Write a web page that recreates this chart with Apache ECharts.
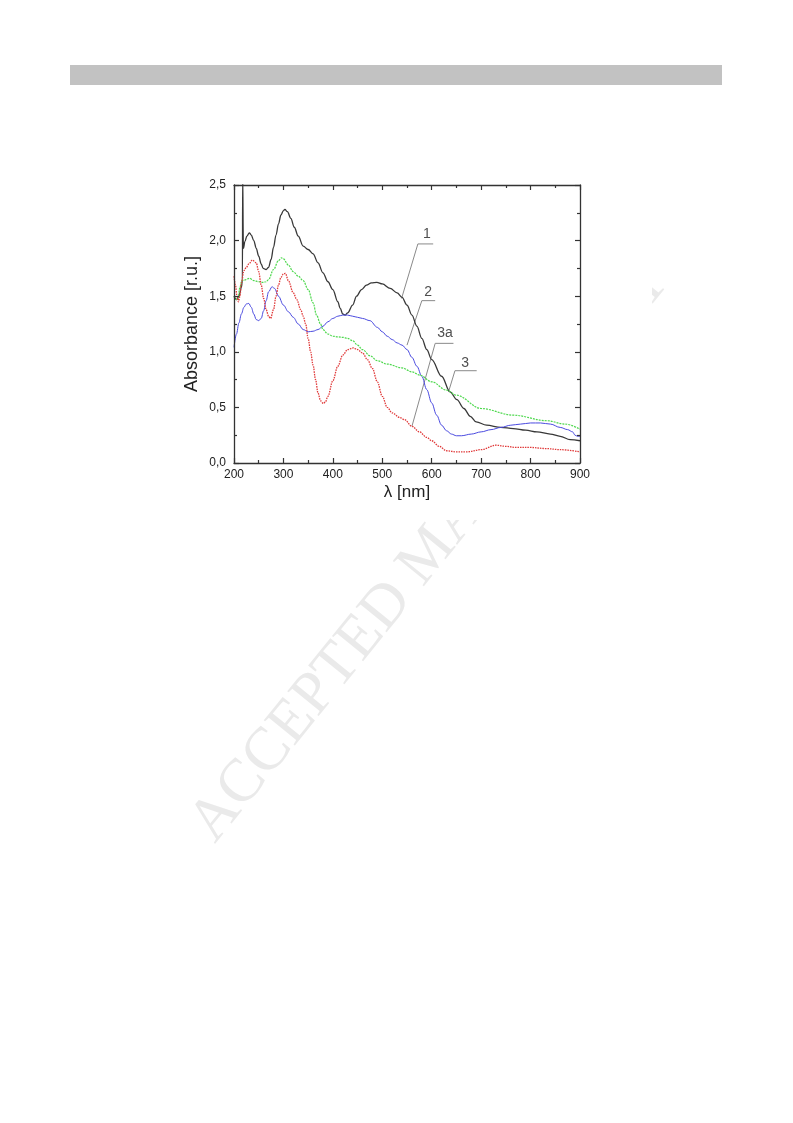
<!DOCTYPE html>
<html><head><meta charset="utf-8">
<script src="https://cdn.jsdelivr.net/npm/echarts@6/dist/echarts.min.js"></script>
<style>html,body{margin:0;padding:0;background:#fff}#c{width:793px;height:1123px}</style>
</head><body><div id="c"></div>
<script>
// Curve 1 (black)
const wl1 = [200,205,210,215,217,217.6,218.4,219,222,226,231,235,240,245,250,255,259,265,270,275,280,285,290,295,300,303,308,315,322,330,340,350,360,370,380,390,400,410,415,420,425,430,440,448,458,468,478,489,500,516,530,540,550,560,570,580,590,600,620,637,651,665,678,690,711,740,765,790,813,840,860,880,900];
const abs1 = [1.50,1.47,1.50,1.58,1.65,2.60,2.60,1.93,1.99,2.04,2.07,2.05,2.00,1.93,1.86,1.79,1.75,1.74,1.76,1.83,1.94,2.05,2.15,2.23,2.27,2.28,2.26,2.20,2.12,2.04,1.95,1.92,1.88,1.80,1.71,1.63,1.56,1.45,1.39,1.34,1.33,1.35,1.42,1.50,1.56,1.60,1.62,1.625,1.61,1.57,1.53,1.49,1.42,1.33,1.23,1.12,1.02,0.93,0.78,0.64,0.57,0.49,0.42,0.37,0.34,0.32,0.31,0.295,0.28,0.26,0.24,0.21,0.20];
// Curve 2 (blue)
const wl2 = [200,205,210,215,220,225,230,235,240,245,250,255,260,265,270,277,282,290,300,310,320,330,340,350,360,370,380,390,400,410,420,430,440,450,460,475,490,500,510,520,530,540,550,560,570,580,590,600,610,620,630,640,650,660,680,700,720,740,760,780,800,820,840,860,875,885,890,895,900];
const abs2 = [1.04,1.16,1.26,1.34,1.40,1.43,1.435,1.40,1.34,1.29,1.28,1.30,1.37,1.46,1.54,1.585,1.57,1.50,1.42,1.36,1.31,1.25,1.20,1.18,1.185,1.20,1.23,1.27,1.30,1.32,1.33,1.33,1.32,1.31,1.30,1.28,1.22,1.18,1.14,1.11,1.08,1.06,1.02,0.95,0.87,0.78,0.66,0.54,0.43,0.34,0.29,0.26,0.245,0.245,0.26,0.28,0.30,0.32,0.34,0.35,0.36,0.36,0.35,0.32,0.30,0.28,0.25,0.24,0.24];
// Curve 3 (green)
const wl3 = [200,205,208,212,216,220,232,240,250,259,265,270,280,290,296,300,310,320,330,340,350,360,367,375,380,390,400,410,420,430,440,450,460,475,490,510,540,560,576,600,630,650,700,765,833,870,900];
const abs3 = [1.50,1.47,1.48,1.58,1.64,1.645,1.66,1.64,1.63,1.625,1.63,1.65,1.74,1.82,1.845,1.835,1.78,1.72,1.68,1.64,1.56,1.44,1.33,1.25,1.20,1.16,1.14,1.135,1.13,1.12,1.10,1.06,1.02,0.965,0.92,0.89,0.855,0.82,0.79,0.73,0.656,0.61,0.49,0.43,0.38,0.35,0.305];
// Curve 3a (red)
const wl4 = [200,203,206,209,212,215,220,225,230,237,245,250,255,260,265,270,274,280,285,290,295,300,304,310,320,327,335,340,345,350,355,360,365,370,375,381,385,390,400,410,420,430,441,450,460,470,480,490,500,510,520,535,545,560,575,590,600,615,630,650,670,700,730,750,770,800,830,860,900];
const abs4 = [1.68,1.60,1.50,1.45,1.50,1.62,1.73,1.76,1.79,1.825,1.80,1.72,1.60,1.48,1.38,1.32,1.30,1.38,1.50,1.60,1.67,1.70,1.705,1.64,1.53,1.47,1.38,1.32,1.25,1.12,1.00,0.88,0.75,0.63,0.56,0.535,0.55,0.60,0.74,0.87,0.97,1.02,1.035,1.02,0.99,0.93,0.85,0.73,0.60,0.50,0.45,0.41,0.39,0.33,0.28,0.23,0.20,0.15,0.11,0.10,0.10,0.12,0.16,0.15,0.14,0.14,0.13,0.12,0.10];
// Leader lines and curve labels
const leaderNames = ['1','2','3a','3'];
const leaderX = [[539,572,603],[550,580,607],[560,607,644],[634,647,691]];
const leaderY = [[1.48,1.97,1.97],[1.06,1.46,1.46],[0.33,1.076,1.076],[0.64,0.83,0.83]];
const labelX = [590,593,627,667.5];
const labelY = [2.06,1.54,1.166,0.897];
const xTicks = [200,300,400,500,600,700,800,900];
const yTicks = [0,0.5,1.0,1.5,2.0,2.5];

const zip = (a,b) => a.map((v,i)=>[v,b[i]]);
const fam = '"Liberation Sans", Arial, sans-serif';
const chart = echarts.init(document.getElementById('c'), null, {renderer:'canvas'});
const axisCommon = {
  axisLine:{show:true, onZero:false, lineStyle:{color:'#333', width:1.3}},
  axisTick:{show:true, inside:true, length:5, lineStyle:{color:'#333', width:1.2}},
  minorTick:{show:true, splitNumber:2, length:3, lineStyle:{color:'#333', width:1.2}},
  splitLine:{show:false}, minorSplitLine:{show:false}, z:5
};
const series = [];
const curves = [
  {name:'1', d:zip(wl1,abs1), color:'#383838', type:'solid', w:1.3},
  {name:'2', d:zip(wl2,abs2), color:'#4a4ae0', type:'solid', w:1},
  {name:'3', d:zip(wl3,abs3), color:'#4ed84e', type:[2,1], w:1.2},
  {name:'3a', d:zip(wl4,abs4), color:'#e03a3a', type:[1.5,1], w:1.3}
];
curves.forEach(c=>series.push({type:'line', name:c.name, data:c.d, showSymbol:false, smooth:0.35, smoothMonotone:'x', clip:true,
  lineStyle:{color:c.color, width:c.w, type:c.type}, z:3}));
leaderNames.forEach((n,i)=>series.push({type:'line', data:zip(leaderX[i],leaderY[i]), showSymbol:false, smooth:false,
  lineStyle:{color:'#8a8a8a', width:1}, z:2, silent:true}));
series.push({type:'scatter', symbolSize:0, data:leaderNames.map((n,i)=>({value:[labelX[i],labelY[i]], name:n})),
  label:{show:true, position:'inside', formatter:p=>p.name, fontFamily:fam, fontSize:14, color:'#222'}, z:4});

chart.setOption({
  animation:false,
  backgroundColor:'#fff',
  graphic:[
    {type:'rect', shape:{x:70,y:65,width:652,height:20}, style:{fill:'#c2c2c2'}, z:0},
    {type:'text', x:430, y:553, rotation:51*Math.PI/180, style:{text:'ACCEPTED MANUSCRIPT', font:'61px "Liberation Serif", "Times New Roman", serif', fill:'#eaeaea', align:'center', verticalAlign:'middle'}, z:0},
    {type:'rect', shape:{x:150,y:150,width:502,height:370}, style:{fill:'#fff'}, z:1}
  ],
  grid:{left:234, right:213, top:185, bottom:660, containLabel:false},
  xAxis:[
    Object.assign({type:'value', min:200, max:900, interval:100, position:'bottom',
      axisLabel:{fontFamily:fam, fontSize:12, color:'#222', margin:6, customValues:xTicks},
      name:'λ [nm]', nameLocation:'middle', nameGap:21, nameTextStyle:{fontFamily:fam, fontSize:17, color:'#222'}}, axisCommon),
    Object.assign({type:'value', min:200, max:900, interval:100, position:'top', axisLabel:{show:false}}, axisCommon)
  ],
  yAxis:[
    Object.assign({type:'value', min:0, max:2.5, interval:0.5, position:'left',
      axisLabel:{fontFamily:fam, fontSize:12, color:'#222', margin:8, formatter:v=>v.toFixed(1).replace('.',',')},
      name:'Absorbance [r.u.]', nameLocation:'middle', nameGap:33, nameTextStyle:{fontFamily:fam, fontSize:18, color:'#222'}}, axisCommon),
    Object.assign({type:'value', min:0, max:2.5, interval:0.5, position:'right', axisLabel:{show:false}}, axisCommon)
  ],
  series:series
});
</script></body></html>
